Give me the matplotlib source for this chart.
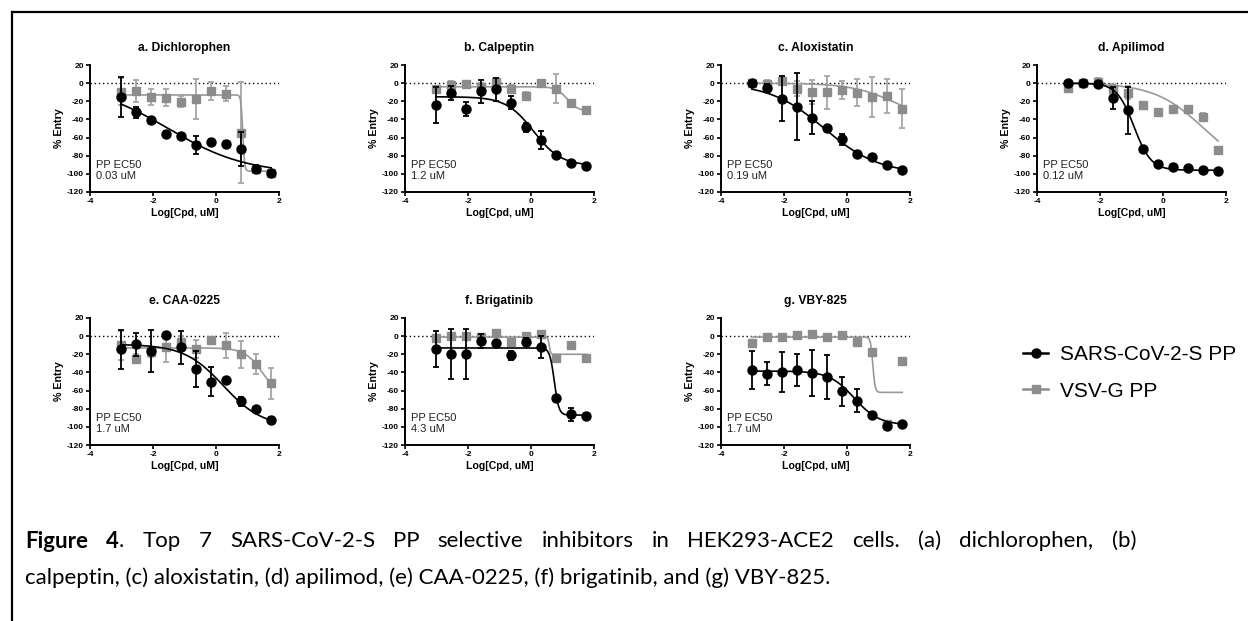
import numpy as np
import matplotlib
matplotlib.use("Agg")
import matplotlib.pyplot as plt
from matplotlib.lines import Line2D

plt.rcParams['font.family'] = ['Liberation Sans', 'DejaVu Sans']
plt.rcParams['axes.unicode_minus'] = False

# -----------------------------
# data
# -----------------------------
titles = ['a. Dichlorophen', 'b. Calpeptin', 'c. Aloxistatin', 'd. Apilimod',
          'e. CAA-0225', 'f. Brigatinib', 'g. VBY-825']
ec50_labels = ['0.03 uM', '1.2 uM', '0.19 uM', '0.12 uM', '1.7 uM', '4.3 uM', '1.7 uM']

log_dose = [-3.02, -2.54, -2.06, -1.58, -1.11, -0.63, -0.15, 0.32, 0.80, 1.28, 1.75]

sars_mean = [
    [-15, -32, -41, -56, -58, -68, -65, -67, -72.5, -94.5, -99],
    [-24, -10.6, -28.6, -9, -7, -21.6, -48.4, -63, -79.5, -88, -91.6],
    [0, -5, -17, -26, -38, -49.5, -62, -78, -81, -90, -95.6],
    [0, 0.5, -0.5, -16, -30, -72.5, -89.5, -92, -93.5, -95.6, -96.7],
    [-14.7, -9.2, -16, 1, -12.5, -36, -50, -48, -72, -80, -92],
    [-14, -19.5, -19.5, -5.5, -8, -21, -6, -12, -68, -86, -88],
    [-37, -41.5, -40, -37, -40.5, -45, -61, -71, -86.5, -99, -96.5],
]
sars_err = [
    [22, 6, 4, 3, 3, 10, 3, 3, 19, 4, 1],
    [20, 8, 8, 13, 13, 7, 5, 10, 2, 1, 1],
    [1, 4, 24.5, 37, 18.5, 1, 6, 3, 1, 1, 1],
    [1, 1, 1, 12, 26, 1, 1, 3, 1, 1, 1],
    [21, 13, 23, 1, 18, 20, 15.5, 2, 5, 1, 3],
    [20, 27.5, 27.5, 8, 1, 5, 4, 12, 1, 7, 3],
    [21, 12.5, 22, 17.5, 25, 24.5, 15.5, 13, 3, 1, 1],
]
vsv_mean = [
    [-9.5, -8.4, -15, -16, -20.5, -17, -8.5, -11.5, -54.5, -95, -99],
    [-7, -2, -0.5, -4, 1.5, -6, -14, 0, -6, -21.6, -30],
    [0, -0.5, 2.5, -6, -9.5, -10, -7.7, -10.6, -15, -14.3, -28],
    [-5, 0, 1, -6, -10.6, -24, -32, -29, -29, -37, -74],
    [-10, -25, -18, -12, -6, -14, -4, -10, -20, -31, -52],
    [-2.5, 0, 0, -1, 3, -6.5, 0, 2.5, -24.6, -10, -24.5],
    [-7.5, -0.5, -1, 1.5, 2.5, -0.5, 1.5, -6, -17, -97, -27],
]
vsv_err = [
    [15, 12, 9, 9, 6, 22, 10, 8, 56, 0, 0],
    [3, 4, 0, 4, 4, 4, 4, 0, 16, 0, 0],
    [0, 4, 5, 8, 13, 18, 10, 15, 22, 19, 21],
    [5, 0, 5, 5, 7, 3, 0, 4, 3, 4, 0],
    [16, 5, 5, 17, 6, 10, 3, 14, 15, 11, 17],
    [2, 0, 0, 2, 2, 2, 2, 3, 0, 2, 2],
    [3, 0, 0, 0, 0, 0, 0, 0, 0, 0, 0],
]

# 4PL fit parameters: (top, bottom, logEC50, hill)
sars_fit = [
    (0, -100, -1.52, 0.35),
    (-15, -91, 0.08, 1.0),
    (0, -100, -0.72, 0.5),
    (0, -96, -0.92, 1.6),
    (-9, -100, 0.23, 0.7),
    (-13, -87, 0.74, 6),
    (-38.5, -98, 0.23, 1.1),
]
vsv_fit = [
    (-13, -97, 0.85, 15),
    (-4, -31, 1.15, 2.5),
    (0, -45, 1.6, 0.6),
    (0, -100, 1.3, 0.55),
    (-13, -70, 1.5, 1.5),
    (-1, -20, 0.58, 20),
    (-1, -62, 0.82, 12),
]

caption_line1 = ('Figure 4. Top 7 SARS-CoV-2-S PP selective inhibitors in HEK293-ACE2 cells. '
                 '(a) dichlorophen, (b)')
caption_line2 = 'calpeptin, (c) aloxistatin, (d) apilimod, (e) CAA-0225, (f) brigatinib, and (g) VBY-825.'


def four_pl(x, top, bottom, logec50, hill):
    return bottom + (top - bottom) / (1 + 10 ** ((x - logec50) * hill))


W, H = 1248, 621
fig = plt.figure(figsize=(W / 100, H / 100), dpi=100)

lefts = [90, 405, 721, 1037, 90, 405, 721]
tops = [65, 65, 65, 65, 318, 318, 318]
aw, ah = 189, 127

black = '#000000'
gray = '#8c8c8c'
gray_err = '#a6a6a6'

xs = np.linspace(log_dose[0], log_dose[-1], 400)

for i in range(7):
    ax = fig.add_axes([lefts[i] / W, 1 - (tops[i] + ah) / H, aw / W, ah / H])
    ax.axhline(0, color='black', lw=1, ls=(0, (1, 2)), zorder=1)

    ax.errorbar(log_dose, vsv_mean[i], yerr=vsv_err[i], fmt='none', ecolor=gray_err,
                elinewidth=1.3, capsize=2.5, capthick=1.3, zorder=2)
    ax.plot(xs, four_pl(xs, *vsv_fit[i]), color='#999999', lw=1.2, zorder=2)
    ax.plot(log_dose, vsv_mean[i], 's', color=gray, ms=6, zorder=3)

    ax.errorbar(log_dose, sars_mean[i], yerr=sars_err[i], fmt='none', ecolor=black,
                elinewidth=1.3, capsize=2.5, capthick=1.3, zorder=4)
    ax.plot(xs, four_pl(xs, *sars_fit[i]), color=black, lw=1.2, zorder=4)
    ax.plot(log_dose, sars_mean[i], 'o', color=black, ms=6.5, zorder=5)

    ax.set_xlim(-4, 2)
    ax.set_ylim(-120, 20)
    ax.set_xticks([-4, -2, 0, 2])
    ax.set_yticks(np.arange(-120, 21, 20))
    for s in ['top', 'right']:
        ax.spines[s].set_visible(False)
    for s in ['left', 'bottom']:
        ax.spines[s].set_linewidth(1.4)
    ax.tick_params(length=3, width=1.2, pad=1.5, labelsize=6)
    for lab in ax.get_xticklabels() + ax.get_yticklabels():
        lab.set_fontweight('bold')
    ax.set_title(titles[i], fontsize=8.7, fontweight='bold', pad=10)
    ax.set_xlabel('Log[Cpd, uM]', fontsize=7.6, fontweight='bold', labelpad=2)
    ax.set_ylabel('% Entry', fontsize=7.7, fontweight='bold', labelpad=2)
    ax.text(0.03, 0.09, 'PP EC50\n' + ec50_labels[i], transform=ax.transAxes,
            fontsize=8, color='#222222', va='bottom', ha='left', linespacing=1.05)

# legend
handles = [
    Line2D([], [], color=black, marker='o', ms=6.5, lw=1.8),
    Line2D([], [], color=gray, marker='s', ms=6, lw=1.8),
]
fig.legend(handles, ['SARS-CoV-2-S PP', 'VSV-G PP'], loc='upper left',
           bbox_to_anchor=(1023 / W, 1 - 345 / H), frameon=False, fontsize=15,
           handlelength=1.2, handletextpad=0.6, labelspacing=0.85, borderpad=0,
           borderaxespad=0)

# frame (top and left edges)
fig.add_artist(Line2D([12 / W, 12 / W], [0, 1 - 12 / H], color='black', lw=1.6))
fig.add_artist(Line2D([12 / W, 1], [1 - 12 / H, 1 - 12 / H], color='black', lw=1.6))

# caption: first line justified between x=25 and x=1136
cap_font = ['Lato', 'DejaVu Sans']
cap_size = 16
x_left, x_right = 25, 1136
y1, y2 = 1 - 541 / H, 1 - 578 / H

words = caption_line1.split(' ')
renderer = fig.canvas.get_renderer()
word_parts = []
for w in words:
    if w == 'Figure':
        parts = [(w, 'bold')]
    elif w == '4.':
        parts = [('4', 'bold'), ('.', 'normal')]
    else:
        parts = [(w, 'normal')]
    objs = []
    for txt, wt in parts:
        t = fig.text(0, y1, txt, fontsize=cap_size, fontweight=wt, family=cap_font,
                     va='center', ha='left')
        objs.append(t)
    word_parts.append(objs)

widths = [[t.get_window_extent(renderer).width for t in objs] for objs in word_parts]
total = sum(sum(w) for w in widths)
gap = (x_right - x_left - total) / (len(words) - 1)
x = x_left
for objs, ws in zip(word_parts, widths):
    for t, wpx in zip(objs, ws):
        t.set_x(x / W)
        x += wpx
    x += gap

fig.text(x_left / W, y2, caption_line2, fontsize=cap_size, family=cap_font, va='center')

fig.savefig('out.png', dpi=100)
